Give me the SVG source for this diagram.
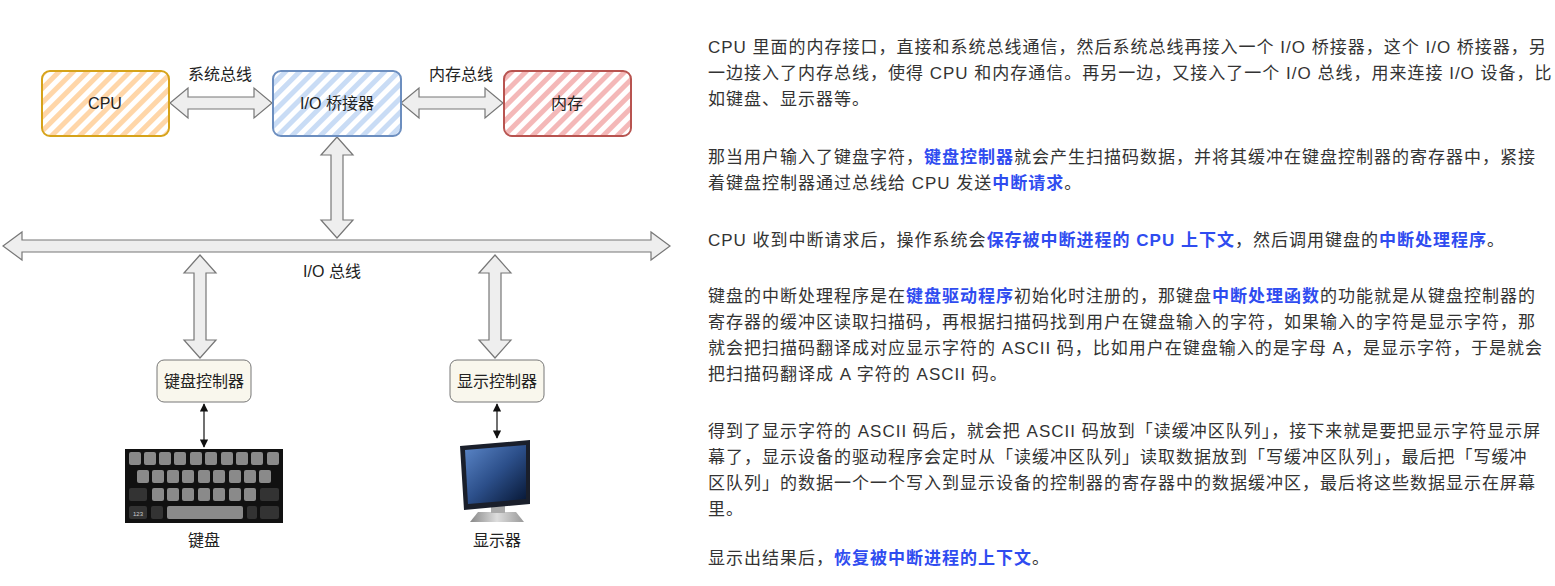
<svg xmlns="http://www.w3.org/2000/svg" width="1555" height="586" viewBox="0 0 1555 586">
<style>
text{font-family:"Liberation Sans","Noto Sans CJK SC",sans-serif;}
.lbl{font-size:16px;fill:#222;text-anchor:middle}
.p{font-size:17px;fill:#333;letter-spacing:1px}
.b{fill:#2f4cf0;font-weight:bold}
.ba{fill:#eee;stroke:#777;stroke-width:1.2}
.key{fill:#8a8a8a}
</style>
<defs>
<pattern id="hy" width="10" height="10" patternUnits="userSpaceOnUse" patternTransform="rotate(45)"><rect width="10" height="10" fill="#fff"/><rect width="5" height="10" fill="#ffd6a8"/></pattern>
<pattern id="hb" width="10" height="10" patternUnits="userSpaceOnUse" patternTransform="rotate(45)"><rect width="10" height="10" fill="#fff"/><rect width="5" height="10" fill="#c9dcf5"/></pattern>
<pattern id="hr" width="10" height="10" patternUnits="userSpaceOnUse" patternTransform="rotate(45)"><rect width="10" height="10" fill="#fff"/><rect width="5" height="10" fill="#f4b8b8"/></pattern>
<marker id="ah" viewBox="0 0 10 10" refX="9" refY="5" markerWidth="7" markerHeight="7" orient="auto-start-reverse"><path d="M0,0 L10,5 L0,10 z" fill="#111"/></marker>
<linearGradient id="scr" x1="0" y1="0" x2="1" y2="1"><stop offset="0" stop-color="#5b86c8"/><stop offset="0.5" stop-color="#2c4f8a"/><stop offset="1" stop-color="#061633"/></linearGradient>
<linearGradient id="std" x1="0" y1="0" x2="1" y2="0"><stop offset="0" stop-color="#888"/><stop offset="0.5" stop-color="#ddd"/><stop offset="1" stop-color="#999"/></linearGradient>
</defs>
<rect width="1555" height="586" fill="#fff"/>
<g id="connectors">
<path class="ba" d="M170,103 L188,88 L188,97 L254,97 L254,88 L272,103 L254,118 L254,109 L188,109 L188,118 Z"/>
<path class="ba" d="M401,103 L419,88 L419,97 L485,97 L485,88 L503,103 L485,118 L485,109 L419,109 L419,118 Z"/>
<path class="ba" d="M337,137 L353,155 L343,155 L343,220 L353,220 L337,238 L321,220 L331,220 L331,155 L321,155 Z"/>
<path class="ba" d="M3,246 L22,232 L22,240 L651,240 L651,232 L670,246 L651,260 L651,252 L22,252 L22,260 Z"/>
<path class="ba" d="M200,255 L216,273 L206,273 L206,340 L216,340 L200,358 L184,340 L194,340 L194,273 L184,273 Z"/>
<path class="ba" d="M495,255 L511,273 L501,273 L501,340 L511,340 L495,358 L479,340 L489,340 L489,273 L479,273 Z"/>
<line x1="204" y1="404" x2="204" y2="447" stroke="#111" stroke-width="1.2" marker-start="url(#ah)" marker-end="url(#ah)"/>
<line x1="497" y1="404" x2="497" y2="438" stroke="#111" stroke-width="1.2" marker-start="url(#ah)" marker-end="url(#ah)"/>
<text class="lbl" x="220" y="80">系统总线</text>
<text class="lbl" x="461" y="80">内存总线</text>
<text class="lbl" x="332" y="277">I/O 总线</text>
</g>
<g id="cpu"><rect x="42" y="71" width="127" height="65" rx="8" fill="url(#hy)" stroke="#d6a31a" stroke-width="2"/><text class="lbl" x="105" y="109">CPU</text></g>
<g id="bridge"><rect x="273" y="71" width="128" height="65" rx="8" fill="url(#hb)" stroke="#6c8ebf" stroke-width="2"/><text class="lbl" x="337" y="109">I/O 桥接器</text></g>
<g id="mem"><rect x="504" y="71" width="127" height="65" rx="8" fill="url(#hr)" stroke="#b85450" stroke-width="2"/><text class="lbl" x="567" y="109">内存</text></g>
<g id="kbc"><rect x="157" y="360" width="94" height="42" rx="7" fill="#f9f7ed" stroke="#777"/><text class="lbl" x="204" y="387">键盘控制器</text></g>
<g id="dpc"><rect x="450" y="360" width="94" height="42" rx="7" fill="#f9f7ed" stroke="#777"/><text class="lbl" x="497" y="387">显示控制器</text></g>
<g id="keyboard">
<rect x="125" y="449" width="158" height="74" fill="#111"/>
<g class="key">
<rect x="129" y="452" width="12" height="13" rx="2"/><rect x="144" y="452" width="12" height="13" rx="2"/><rect x="159" y="452" width="12" height="13" rx="2"/><rect x="174" y="452" width="12" height="13" rx="2"/><rect x="190" y="452" width="12" height="13" rx="2"/><rect x="205" y="452" width="12" height="13" rx="2"/><rect x="221" y="452" width="12" height="13" rx="2"/><rect x="236" y="452" width="12" height="13" rx="2"/><rect x="251" y="452" width="12" height="13" rx="2"/><rect x="267" y="452" width="12" height="13" rx="2"/>
<rect x="137" y="470" width="12" height="13" rx="2"/><rect x="152" y="470" width="12" height="13" rx="2"/><rect x="167" y="470" width="12" height="13" rx="2"/><rect x="182" y="470" width="12" height="13" rx="2"/><rect x="198" y="470" width="12" height="13" rx="2"/><rect x="213" y="470" width="12" height="13" rx="2"/><rect x="229" y="470" width="12" height="13" rx="2"/><rect x="244" y="470" width="12" height="13" rx="2"/><rect x="259" y="470" width="12" height="13" rx="2"/>
<rect x="152" y="488" width="12" height="13" rx="2"/><rect x="167" y="488" width="12" height="13" rx="2"/><rect x="182" y="488" width="12" height="13" rx="2"/><rect x="198" y="488" width="12" height="13" rx="2"/><rect x="213" y="488" width="12" height="13" rx="2"/><rect x="229" y="488" width="12" height="13" rx="2"/><rect x="244" y="488" width="12" height="13" rx="2"/>
<rect x="167" y="506" width="76" height="13" rx="2"/>
</g>
<rect x="129" y="488" width="18" height="13" rx="2" fill="#333"/><rect x="260" y="488" width="19" height="13" rx="2" fill="#333"/>
<rect x="129" y="506" width="18" height="13" rx="2" fill="#333"/><rect x="151" y="506" width="12" height="13" rx="2" fill="#333"/><rect x="247" y="506" width="10" height="13" rx="2" fill="#333"/><rect x="260" y="506" width="19" height="13" rx="2" fill="#333"/>
<text x="138" y="516" font-size="6" fill="#ccc" text-anchor="middle">123</text>
</g>
<g id="monitor">
<path d="M478,512 L516,512 L524,522 L470,522 Z" fill="url(#std)"/>
<rect x="491" y="500" width="14" height="13" fill="#aaa"/>
<path d="M460,446 L530,440 L530,504 L464,510 Z" fill="#1a1f2b"/>
<path d="M465,450 L526,445 L526,499 L468,504 Z" fill="url(#scr)"/>
</g>
<text class="lbl" x="204" y="546">键盘</text>
<text class="lbl" x="497" y="546">显示器</text>
<g id="para">
<text class="p" x="708" y="53">CPU 里面的内存接口，直接和系统总线通信，然后系统总线再接入一个 I/O 桥接器，这个 I/O 桥接器，另</text>
<text class="p" x="708" y="79">一边接入了内存总线，使得 CPU 和内存通信。再另一边，又接入了一个 I/O 总线，用来连接 I/O 设备，比</text>
<text class="p" x="708" y="105">如键盘、显示器等。</text>
<text class="p" x="708" y="163">那当用户输入了键盘字符，<tspan class="b">键盘控制器</tspan>就会产生扫描码数据，并将其缓冲在键盘控制器的寄存器中，紧接</text>
<text class="p" x="708" y="189">着键盘控制器通过总线给 CPU 发送<tspan class="b">中断请求</tspan>。</text>
<text class="p" x="708" y="246">CPU 收到中断请求后，操作系统会<tspan class="b">保存被中断进程的 CPU 上下文</tspan>，然后调用键盘的<tspan class="b">中断处理程序</tspan>。</text>
<text class="p" x="708" y="302">键盘的中断处理程序是在<tspan class="b">键盘驱动程序</tspan>初始化时注册的，那键盘<tspan class="b">中断处理函数</tspan>的功能就是从键盘控制器的</text>
<text class="p" x="708" y="328">寄存器的缓冲区读取扫描码，再根据扫描码找到用户在键盘输入的字符，如果输入的字符是显示字符，那</text>
<text class="p" x="708" y="354">就会把扫描码翻译成对应显示字符的  ASCII 码，比如用户在键盘输入的是字母 A，是显示字符，于是就会</text>
<text class="p" x="708" y="380">把扫描码翻译成 A 字符的 ASCII 码。</text>
<text class="p" x="708" y="437">得到了显示字符的 ASCII 码后，就会把 ASCII 码放到「读缓冲区队列」，接下来就是要把显示字符显示屏</text>
<text class="p" x="708" y="463">幕了，显示设备的驱动程序会定时从「读缓冲区队列」读取数据放到「写缓冲区队列」，最后把「写缓冲</text>
<text class="p" x="708" y="489">区队列」的数据一个一个写入到显示设备的控制器的寄存器中的数据缓冲区，最后将这些数据显示在屏幕</text>
<text class="p" x="708" y="515">里。</text>
<text class="p" x="708" y="564">显示出结果后，<tspan class="b">恢复被中断进程的上下文</tspan>。</text>
</g>
</svg>
